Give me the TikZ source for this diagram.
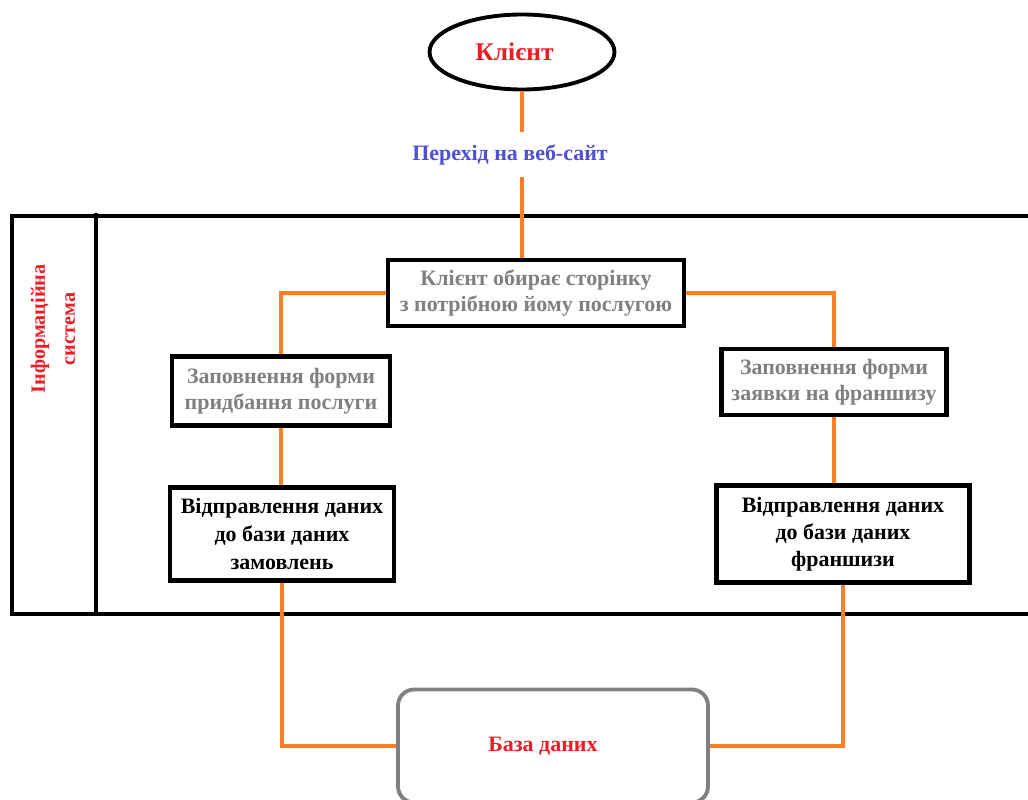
\documentclass[tikz,border=0pt]{standalone}
\usepackage{fontspec}
\setmainfont{Liberation Serif}
\usetikzlibrary{shapes.geometric}

\definecolor{linkorange}{RGB}{255,127,39}
\definecolor{titlered}{RGB}{237,28,36}
\definecolor{hopblue}{RGB}{80,80,210}
\definecolor{softgray}{RGB}{128,128,128}

\begin{document}
\begin{tikzpicture}[x=0.02cm, y=-0.02cm,
        stepbox/.style={draw=black, line width=2.8pt, fill=white, align=center, inner sep=0pt,
          font=\bfseries\fontsize{12.5}{15}\selectfont},
        link/.style={draw=linkorange, line width=2.3pt}]
                \path[use as bounding box, clip] (0,0) rectangle (1028,800);
                % frame of the system
                \draw[line width=2.3pt] (12,216) rectangle (1040,614);
                \draw[line width=2.3pt] (96,213) -- (96,614);
                \node[rotate=90, align=center, text=titlered, font=\bfseries\fontsize{11.5}{17}\selectfont] (sys) at (53,329) {Інформаційна\\система};
                % nodes
                \node[ellipse, draw=black, line width=2.2pt, minimum width=3.7cm, minimum height=1.5cm, inner sep=0pt,
                      text=titlered, font=\bfseries\fontsize{14.5}{17}\selectfont] (client) at (522,52) {Клієнт\rule{0.3cm}{0pt}};
                \node[stepbox, text=softgray, minimum width=5.92cm, minimum height=1.32cm] (pick) at (536,293) {Клієнт обирає сторінку\\з потрібною йому послугою};
                \node[stepbox, text=softgray, minimum width=4.36cm, minimum height=1.38cm] (buyform) at (281,391) {Заповнення форми\\придбання послуги};
                \node[stepbox, text=softgray, minimum width=4.5cm, minimum height=1.32cm] (franform) at (834,382) {Заповнення форми\\заявки на франшизу};
                \node[stepbox, text=black, minimum width=4.48cm, minimum height=1.86cm,
                      font=\bfseries\fontsize{12.5}{16}\selectfont] (buysend) at (282,534) {Відправлення даних\\до бази даних\\замовлень};
                \node[stepbox, text=black, minimum width=5.06cm, minimum height=1.94cm,
                      font=\bfseries\fontsize{12.5}{15.5}\selectfont] (fransend) at (843,534) {Відправлення даних\\до бази даних\\франшизи};
                \node[draw=softgray, line width=2.2pt, rounded corners=0.32cm, minimum width=6.2cm, minimum height=2.26cm,
                      text=titlered, font=\bfseries\fontsize{12.5}{15}\selectfont] (db) at (553,746) {База даних\rule{0.4cm}{0pt}};
                % connectors
                \draw[link] (client.south) -- (client.south |- pick.north);
                \node[fill=white, inner sep=7pt, text=hopblue, font=\bfseries\fontsize{12.5}{15}\selectfont] (hop) at (510,155) {Перехід на веб-сайт};
                \draw[link] (pick.west) -| (buyform.north);
                \draw[link] (pick.east) -| (franform.north);
                \draw[link] (buyform.south) -- (buyform.south |- buysend.north);
                \draw[link] (franform.south) -- (franform.south |- fransend.north);
                \draw[link] (buysend.south) |- (db.west);
                \draw[link] (fransend.south) |- (db.east);
              \end{tikzpicture}
\end{document}
